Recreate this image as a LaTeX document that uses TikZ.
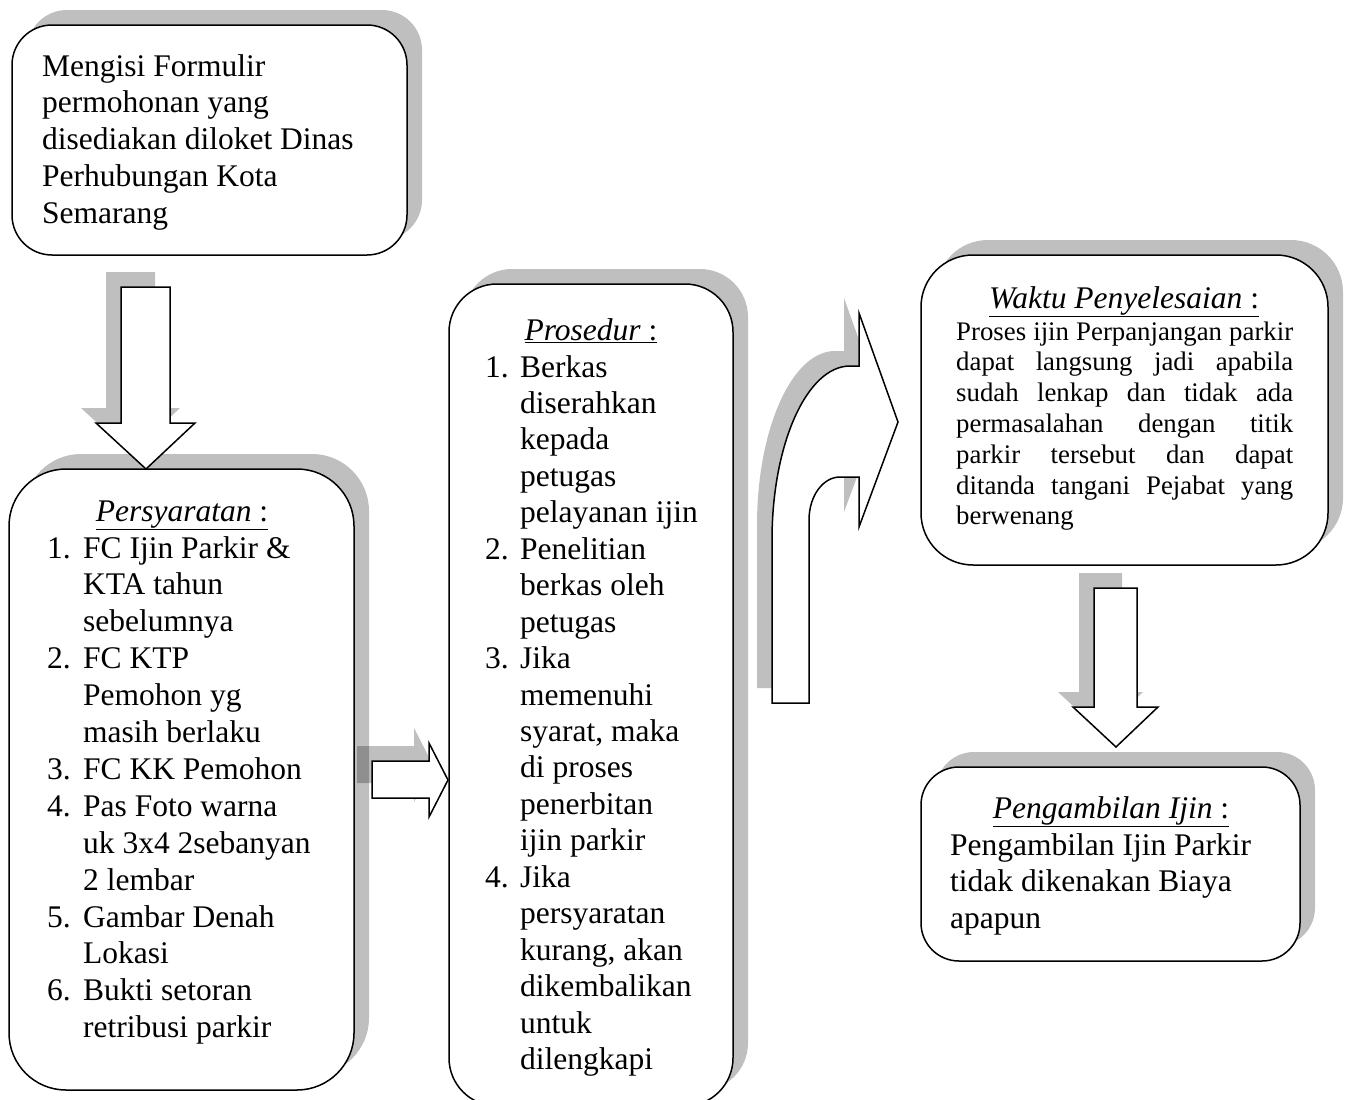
\documentclass[tikz,border=0pt]{standalone}
\usepackage{fontspec}
\setmainfont{Liberation Serif}
\usepackage{array}
\tikzset{
  shadowfill/.style={fill=black, fill opacity=0.25, draw=none},
  shapefill/.style={fill=white, draw=black, line width=1.5pt, line join=miter},
  bigtxt/.style={inner sep=0pt, anchor=base west, font=\fontsize{31.5}{36.9}\selectfont},
  headtxt/.style={inner sep=0pt, anchor=base, font=\fontsize{31.5}{36.9}\selectfont},
  smalltxt/.style={inner sep=0pt, anchor=base west, font=\fontsize{26.8}{30.8}\selectfont},
}
\def\pBoxA{[rounded corners=40pt] (12,25) rectangle (407,255)}
\def\pBoxB{[rounded corners=57pt] (9,469) rectangle (354,1090)}
\def\pBoxC{[rounded corners=48pt] (449,284) rectangle (733,1106)}
\def\pBoxD{[rounded corners=52pt] (921,255) rectangle (1328,565)}
\def\pBoxE{[rounded corners=38pt] (921,767) rectangle (1300,961)}
\def\pArrA{(121,287) -- (170,287) -- (170,423) -- (195,423) -- (146,469) -- (96,423) -- (121,423) -- cycle}
\def\pArrB{(372,761) -- (429,761) -- (429,743) -- (448,780) -- (429,817) -- (429,798) -- (372,798) -- cycle}
\def\pArrC{(772,703) -- (809,703) -- (809,520) .. controls (809,496) and (823,477) .. (840,477) -- (859,477) -- (859,527) -- (898,422) -- (859,313) -- (859,366) -- (850,366) .. controls (807,366) and (772,444) .. (772,540) -- cycle}
\def\pArrD{(1094,588) -- (1137,588) -- (1137,707) -- (1158,707) -- (1116,747) -- (1073,707) -- (1094,707) -- cycle}
\begin{document}
\begin{tikzpicture}[x=1pt,y=-1pt]
\useasboundingbox (0,0) rectangle (1347,1100);
\clip (0,0) rectangle (1347,1100);
% shadows of boxes (up-right)
\begin{scope}[shift={(15,-15)}]
  \fill[shadowfill] \pBoxA;
  \fill[shadowfill] \pBoxB;
  \fill[shadowfill] \pBoxC;
  \fill[shadowfill] \pBoxD;
  \fill[shadowfill] \pBoxE;
\end{scope}
% shadows of arrows (up-left)
\begin{scope}[shift={(-15,-15)}]
  \fill[shadowfill] \pArrA;
  \fill[shadowfill] \pArrB;
  \fill[shadowfill] \pArrC;
  \fill[shadowfill] \pArrD;
\end{scope}
% shapes
\draw[shapefill] \pBoxA;
\draw[shapefill] \pBoxB;
\draw[shapefill] \pBoxC;
\draw[shapefill] \pBoxD;
\draw[shapefill] \pBoxE;
\draw[shapefill] \pArrA;
\draw[shapefill] \pArrB;
\draw[shapefill] \pArrC;
\draw[shapefill] \pArrD;
% box 1 text
\node[bigtxt] (formulir) at (42,76) {\begin{tabular}[t]{@{}l@{}}Mengisi Formulir\\permohonan yang\\disediakan diloket Dinas\\Perhubungan Kota\\Semarang\end{tabular}};
% Persyaratan
\node[headtxt] (syarathead) at (182,521) {\underline{\textit{Persyaratan} :}};
\node[bigtxt] (syaratlist) at (47,558) {\begin{tabular}[t]{@{}p{36pt}@{}l@{}}
1. & FC Ijin Parkir \&\\
 & KTA tahun\\
 & sebelumnya\\
2. & FC KTP\\
 & Pemohon yg\\
 & masih berlaku\\
3. & FC KK Pemohon\\
4. & Pas Foto warna\\
 & uk 3x4 2sebanyan\\
 & 2 lembar\\
5. & Gambar Denah\\
 & Lokasi\\
6. & Bukti setoran\\
 & retribusi parkir
\end{tabular}};
% Prosedur
\node[headtxt] (prosedurhead) at (591,340) {\underline{\textit{Prosedur} :}};
\node[bigtxt, font=\fontsize{31.5}{36.45}\selectfont] (prosedurlist) at (485,377) {\begin{tabular}[t]{@{}p{35pt}@{}l@{}}
1. & Berkas\\
 & diserahkan\\
 & kepada\\
 & petugas\\
 & pelayanan ijin\\
2. & Penelitian\\
 & berkas oleh\\
 & petugas\\
3. & Jika\\
 & memenuhi\\
 & syarat, maka\\
 & di proses\\
 & penerbitan\\
 & ijin parkir\\
4. & Jika\\
 & persyaratan\\
 & kurang, akan\\
 & dikembalikan\\
 & untuk\\
 & dilengkapi
\end{tabular}};
% Waktu
\node[headtxt] (waktuhead) at (1124,308) {\underline{\textit{Waktu Penyelesaian} :}};
\node[smalltxt] (waktubody) at (956,340) {\parbox[t]{337pt}{\parindent=0pt\hyphenpenalty=10000\emergencystretch=20pt
Proses ijin Perpanjangan parkir\linebreak dapat langsung jadi apabila\linebreak sudah lenkap dan tidak ada\linebreak permasalahan dengan titik\linebreak parkir tersebut dan dapat\linebreak ditanda tangani Pejabat yang\linebreak berwenang}};
% Pengambilan
\node[headtxt] (ambilhead) at (1111,818) {\underline{\textit{Pengambilan Ijin} :}};
\node[bigtxt] (ambilbody) at (950,855) {\begin{tabular}[t]{@{}l@{}}Pengambilan Ijin Parkir\\tidak dikenakan Biaya\\apapun\end{tabular}};
\end{tikzpicture}
\end{document}
